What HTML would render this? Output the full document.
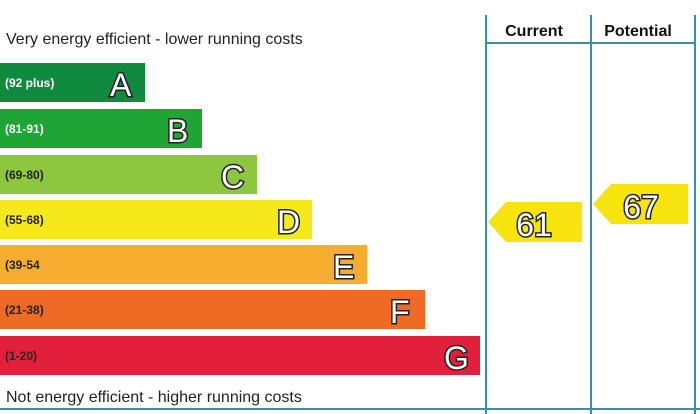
<!DOCTYPE html>
<html><head><style>
body{margin:0;background:#fff;}
svg{display:block;font-family:"Liberation Sans",sans-serif;}
.l{font-size:32px;fill:#fff;stroke:#222;stroke-width:3;paint-order:stroke;font-weight:normal}
.r{font-size:12px;font-weight:bold;fill:#fff}
.n{font-size:32px;fill:#fff;stroke:#222;stroke-width:3;paint-order:stroke}
</style></head><body>
<svg width="700" height="414" viewBox="0 0 700 414">
<rect width="700" height="414" fill="#fff"/>
<text x="6" y="44" font-size="16" fill="#222">Very energy efficient - lower running costs</text>
<text x="6" y="402" font-size="16" fill="#222">Not energy efficient - higher running costs</text>
<g stroke="#3a8fa6" stroke-width="2">
<line x1="486" y1="15" x2="486" y2="414"/>
<line x1="591" y1="15" x2="591" y2="414"/>
<line x1="695" y1="15" x2="695" y2="414"/>
<line x1="486" y1="43" x2="695" y2="43"/>
<line x1="0" y1="409" x2="700" y2="409"/>
</g>
<text x="534" y="36" font-size="16" font-weight="bold" text-anchor="middle" fill="#111">Current</text>
<text x="638" y="36" font-size="16" font-weight="bold" text-anchor="middle" fill="#111">Potential</text>
<rect x="0" y="63" width="145" height="39" fill="#0f8a3f"/>
<rect x="0" y="109" width="202" height="39" fill="#1ea536"/>
<rect x="0" y="155" width="257" height="39" fill="#8dc63f"/>
<rect x="0" y="200" width="312" height="39" fill="#f5e91c"/>
<rect x="0" y="245" width="367" height="39" fill="#f6ac2f"/>
<rect x="0" y="290" width="425" height="39" fill="#ef6a25"/>
<rect x="0" y="336" width="480" height="39" fill="#e2203c"/>
<text class="r" x="5" y="87">(92 plus)</text>
<text class="r" x="5" y="133">(81-91)</text>
<text class="r" x="5" y="179" style="fill:#222">(69-80)</text>
<text class="r" x="5" y="224" style="fill:#222">(55-68)</text>
<text class="r" x="5" y="269" style="fill:#222">(39-54</text>
<text class="r" x="5" y="314" style="fill:#222">(21-38)</text>
<text class="r" x="5" y="360" style="fill:#222">(1-20)</text>
<text class="l" x="110" y="96">A</text>
<text class="l" x="167" y="142">B</text>
<text class="l" x="221" y="188">C</text>
<text class="l" x="277" y="233">D</text>
<text class="l" x="333" y="278">E</text>
<text class="l" x="390" y="323">F</text>
<text class="l" x="444" y="369">G</text>
<polygon points="488,222 506,202 582,202 582,242 506,242" fill="#f7e40f"/>
<text class="n" x="534" y="236" text-anchor="middle">61</text>
<polygon points="593,204 611,184 688,184 688,224 611,224" fill="#f7e40f"/>
<text class="n" x="641" y="218" text-anchor="middle">67</text>
</svg>
</body></html>
